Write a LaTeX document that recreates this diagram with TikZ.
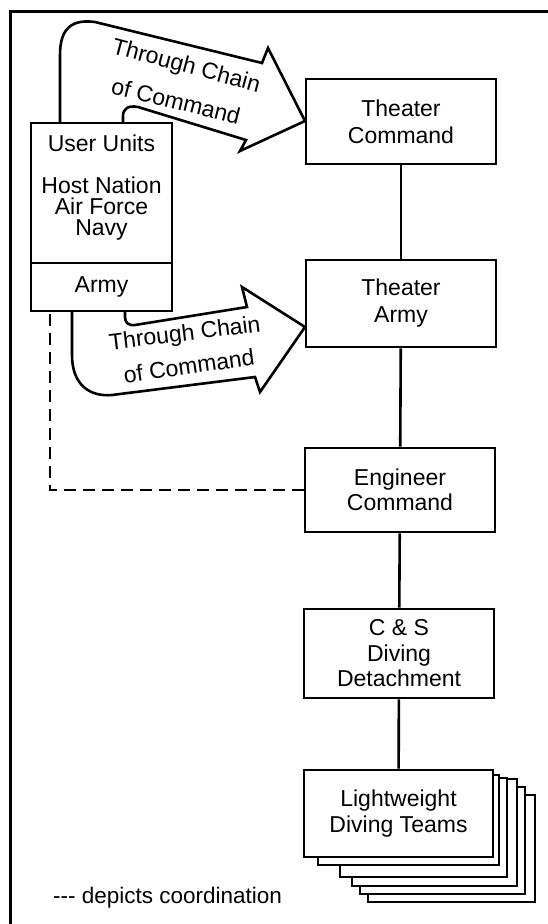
\documentclass[tikz,border=0pt]{standalone}
\usepackage{fontspec}
\setmainfont{Liberation Sans}
\newcommand\boxfont{\fontsize{23}{25.5}\selectfont}
\newcommand\arrfont{\fontsize{23}{26}\selectfont}
\tikzset{
  frameline/.style={line width=3pt},
  box/.style={draw, line width=2.6pt, fill=white, minimum width=190pt, minimum height=86pt,
    align=center, inner sep=0pt, font=\boxfont},
  uubox/.style={draw, line width=2.6pt, fill=white, minimum width=141pt, inner sep=0pt, font=\boxfont},
  plain/.style={inner sep=0pt, font=\boxfont, align=center},
  cmdarrow/.style={draw, line width=2.6pt, fill=white, line join=miter},
  arrtext/.style={inner sep=0pt, font=\arrfont},
  link/.style={line width=2.6pt},
  coord/.style={line width=2.8pt, dash pattern=on 12pt off 7pt},
  card/.style={draw, line width=2.6pt, fill=white},
}
\begin{document}
\begin{tikzpicture}[x=1pt,y=-1pt]
\useasboundingbox (0,0) rectangle (548,924);
\draw[frameline] (10,924) -- (10,11) -- (548,11);

% upper arrow
\draw[cmdarrow] (60,123) -- (60,55) .. controls (60,28) and (72,19) .. (95,22)
  -- (262,63) -- (268,48) -- (305,121) -- (240,151) -- (246,140) -- (138,107)
  .. controls (128,105) and (123,109) .. (123,116) -- (123,123);
\node[arrtext, rotate=-15] (t1a) at (186,67) {Through Chain};
\node[arrtext, rotate=-14] (t1b) at (176,101) {of Command};

% lower arrow
\draw[cmdarrow] (72,311) -- (72,355) .. controls (72,385) and (90,397) .. (112,395)
  -- (255,377) -- (260,392) -- (305,327) -- (242,287) -- (247,307) -- (135,325)
  .. controls (128,326) and (125,322) .. (125,317) -- (125,311);
\node[arrtext, rotate=7] (t2a) at (185,335) {Through Chain};
\node[arrtext, rotate=8] (t2b) at (189,366) {of Command};

% user units
\node[uubox, minimum height=140pt] (uu) at (101.5,193) {};
\node[plain] (uut) at (101.5,143) {User Units};
\node[plain, font=\fontsize{23}{21}\selectfont] (hn) at (101.5,208.5) {Host Nation\\Air Force\\Navy};
\node[uubox, minimum height=48pt] (army) at (101.5,287) {Army};

% chain boxes
\node[box, minimum height=85pt, font=\fontsize{23}{27}\selectfont] (tc) at (401,121.5) {Theater\\Command};
\node[box, minimum height=87pt, font=\fontsize{23}{27}\selectfont] (ta) at (401,303.5) {Theater\\Army};
\node[box, minimum height=84pt] (ec) at (400,490) {Engineer\\Command};
\node[box, minimum height=89pt] (cs) at (399,653.5) {C \& S\\Diving\\Detachment};

% stack of cards
\draw[card] (368,795) rectangle (535,902);
\draw[card] (360,787) rectangle (525,894);
\draw[card] (352,779) rectangle (517,886);
\draw[card] (340,778) rectangle (507,877);
\draw[card] (318,775) rectangle (499,865);
\node[box, minimum height=87pt, minimum width=189pt] (lw) at (398.5,813.5) {Lightweight\\Diving Teams};

\draw[link] (tc) -- (ta);
\draw[link] (ta) -- (ec);
\draw[link] (ec) -- (cs);
\draw[link] (cs) -- (lw);

\coordinate (dk) at (50,311);
\draw[coord] (ec.west) -| (dk);

\node[anchor=west, inner sep=0pt, font=\fontsize{22.5}{24}\selectfont] (legend) at (53,898) {-{}-{}- depicts coordination};
\end{tikzpicture}
\end{document}
